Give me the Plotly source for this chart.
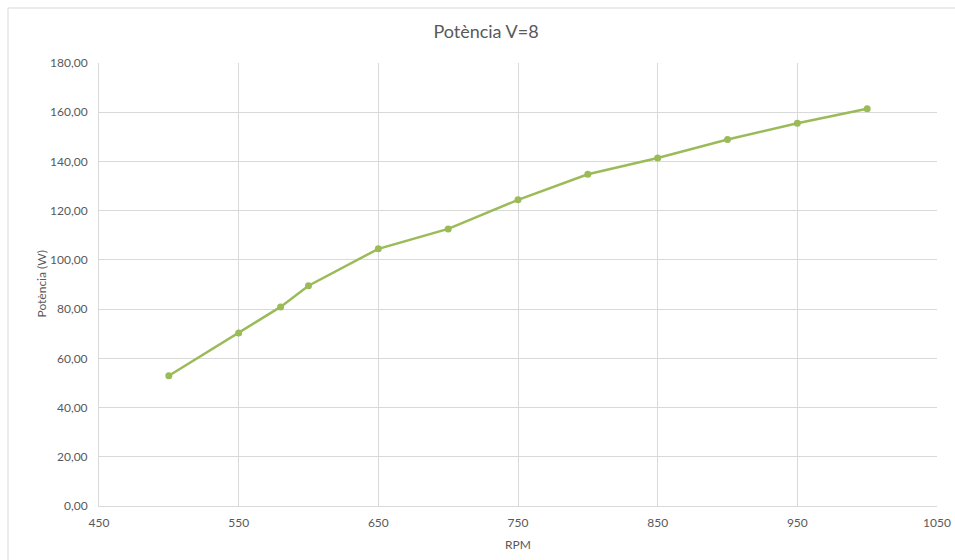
import plotly.graph_objects as go

# Power output at V=8 against rotor speed
rpm = [500, 550, 580, 600, 650, 700, 750, 800, 850, 900, 950, 1000]
potencia = [52.9, 70.3, 80.9, 89.5, 104.5, 112.6, 124.4, 134.8, 141.4, 148.9, 155.5, 161.4]

x_ticks = [450, 550, 650, 750, 850, 950, 1050]
y_ticks = [0, 20, 40, 60, 80, 100, 120, 140, 160, 180]

FONT = "Lato, Open Sans, sans-serif"
GREY_TXT = "#595959"
GRID = "#d9d9d9"
GREEN = "#9bbb59"

# plot area in pixels
L, R, T, B = 99, 937, 63, 506
PW, PH = R - L, B - T

fig = go.Figure(
    go.Scatter(
        x=rpm,
        y=potencia,
        mode="lines+markers",
        line=dict(color=GREEN, width=2.5),
        marker=dict(color=GREEN, size=7),
        showlegend=False,
    )
)

fig.update_layout(
    width=955,
    height=560,
    margin=dict(l=L, r=955 - R, t=T, b=560 - B, autoexpand=False),
    paper_bgcolor="white",
    plot_bgcolor="white",
    separators=",.",
    font=dict(family=FONT, color=GREY_TXT, size=12),
    title=dict(
        text="Potència V=8",
        x=486 / 955,
        xanchor="center",
        y=1 - 32 / 560,
        yanchor="middle",
        font=dict(family=FONT, size=18, color=GREY_TXT),
    ),
    xaxis=dict(
        range=[450, 1050],
        tickvals=x_ticks,
        ticktext=[str(v) for v in x_ticks],
        showgrid=True,
        gridcolor=GRID,
        gridwidth=1,
        zeroline=False,
        showline=True,
        linecolor=GRID,
        ticks="",
        automargin=False,
        ticklabelstandoff=6,
        tickfont=dict(size=12, color=GREY_TXT),
    ),
    yaxis=dict(
        range=[0, 180],
        tickvals=y_ticks,
        tickformat=".2f",
        showgrid=True,
        gridcolor=GRID,
        gridwidth=1,
        zeroline=False,
        showline=True,
        linecolor=GRID,
        ticks="",
        automargin=False,
        ticklabelstandoff=8,
        tickfont=dict(size=12, color=GREY_TXT),
    ),
    annotations=[
        dict(text="RPM", xref="paper", yref="paper",
             x=0.5, y=(B - 544) / PH, xanchor="center", yanchor="middle",
             showarrow=False, font=dict(size=12, color=GREY_TXT)),
        dict(text="Potència (W)", xref="paper", yref="paper",
             x=(41 - L) / PW, y=0.5, xanchor="center", yanchor="middle",
             textangle=-90, showarrow=False, font=dict(size=12, color=GREY_TXT)),
    ],
    shapes=[
        # chart frame (left and top edges are inside the window)
        dict(type="line", xref="paper", yref="paper",
             x0=(8 - L) / PW, x1=(960 - L) / PW,
             y0=(B - 8) / PH, y1=(B - 8) / PH,
             line=dict(color="#d9d9d9", width=1)),
        dict(type="line", xref="paper", yref="paper",
             x0=(8 - L) / PW, x1=(8 - L) / PW,
             y0=(B - 8) / PH, y1=(B - 570) / PH,
             line=dict(color="#d9d9d9", width=1)),
    ],
)

fig.write_html("out.html")
